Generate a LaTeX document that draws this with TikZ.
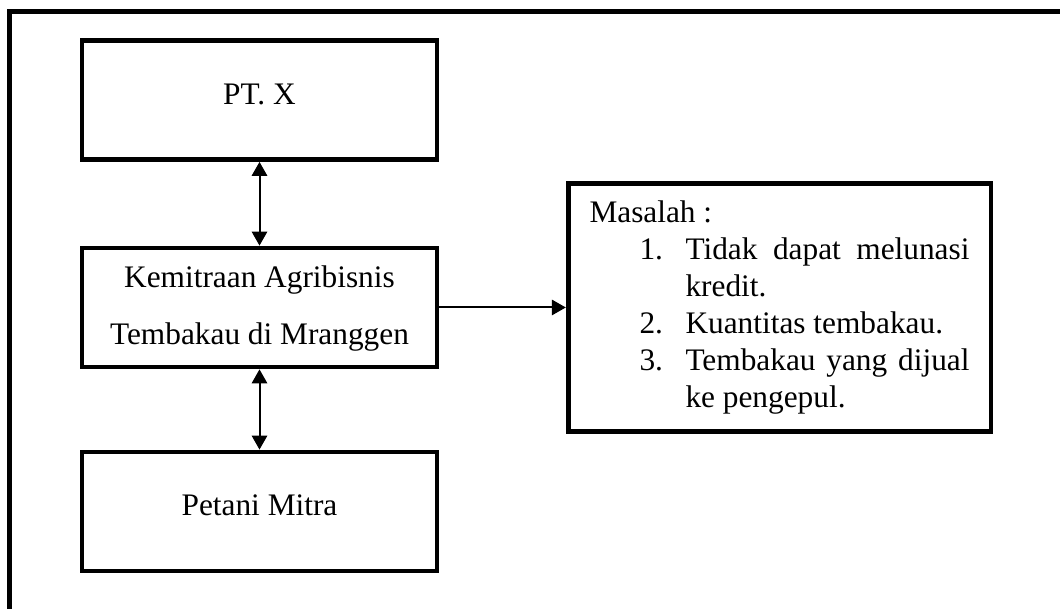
\documentclass[tikz,border=0pt]{standalone}
\usepackage{fontspec}
\setmainfont{Liberation Serif}
\usepackage{tikz}
\usetikzlibrary{calc, arrows.meta, positioning}
\tikzset{
    boxnode/.style = {draw, rectangle, line width=3.3pt, inner sep=0pt, node distance=0em,
      minimum width=266.25pt, minimum height=89.5pt, align=center,
      font=\fontsize{23.5pt}{42.75pt}\selectfont},
    problemnode/.style = {draw, rectangle, line width=3.5pt, inner xsep=16pt, inner ysep=0pt,
      node distance=0em, text width=285pt, minimum height=186pt, align=justify,
      font=\fontsize{23.5pt}{27.75pt}\selectfont},
    framenode/.style = {line width=4.2pt, line cap=rect},
    connect/.style = {black, line width=1.5pt, -{Triangle[length=10.5pt, width=11.5pt]}},
    biconnect/.style = {black, line width=1.5pt, {Triangle[length=10.5pt, width=11.5pt]}-{Triangle[length=10.5pt, width=11.5pt]}}
}
\newcommand{\masitem}[2]{\par\hangindent=72pt\hangafter=1\noindent
  \makebox[72pt][l]{\hspace{37.5pt}#1}#2}

\begin{document}
\begin{tikzpicture}[x=0.75pt, y=-0.75pt]
\useasboundingbox (0,0) rectangle (1060,608);
\draw[framenode] (9.5,608) -- (9.5,11.5) -- (1060,11.5);

\node[boxnode, name=ptx, text depth=9pt] at (259.5,100) {PT. X};

\node[boxnode, name=kemitraan, below of = ptx, yshift=-155.6pt, text depth=3pt] {Kemitraan Agribisnis\\Tembakau di Mranggen};
\draw[biconnect] (ptx) -- (kemitraan);

\node[boxnode, name=petani, below of = kemitraan, yshift=-153pt, text depth=9pt] {Petani Mitra};
\draw[biconnect] (kemitraan) -- (petani);

\node[problemnode, name=masalah, right of = kemitraan, xshift=390pt] {\noindent Masalah :
  \masitem{1.}{Tidak dapat melunasi kredit.}
  \masitem{2.}{Kuantitas tembakau.}
  \masitem{3.}{Tembakau yang dijual ke pengepul.}\par};
\draw[connect] (kemitraan) -- (masalah);
\end{tikzpicture}
\end{document}
